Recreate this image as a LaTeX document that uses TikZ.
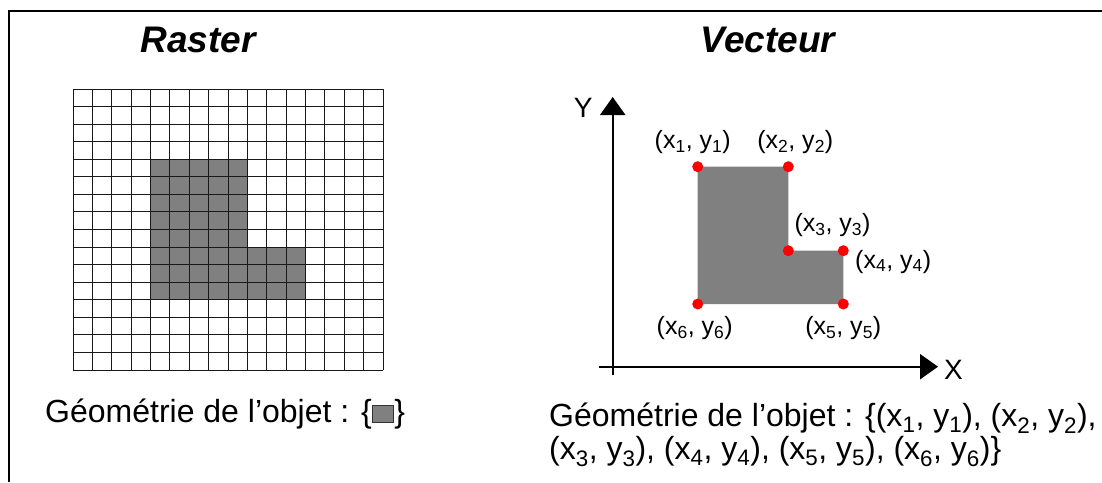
\documentclass[tikz,border=0pt]{standalone}
\usepackage{fontspec}
\setmainfont{Liberation Sans}
\usepackage{tikz}
\usetikzlibrary{arrows.meta,positioning}
\definecolor{cellgray}{HTML}{808080}
\definecolor{dotred}{HTML}{FF0000}
\newcommand{\vtx}[1]{(x\textsubscript{#1}, y\textsubscript{#1})}
\setlength{\fboxsep}{0pt}
\setlength{\fboxrule}{1.3pt}

\begin{document}
\begin{tikzpicture}[
  x=1pt,y=-1pt,
  headline/.style={font=\fontsize{37}{40}\selectfont\bfseries\itshape,anchor=base},
  captext/.style={font=\fontsize{32}{33}\selectfont,align=left,inner sep=0pt,anchor=base west},
  lbl/.style={font=\fontsize{25}{28}\selectfont,inner sep=0pt},
  axlbl/.style={font=\fontsize{28}{30}\selectfont,inner sep=0pt},
  vdot/.style={circle,fill=dotred,minimum size=11pt,inner sep=0pt},
  axisline/.style={-{Triangle[length=18pt,width=25pt]},line width=2.4pt},
  gridline/.style={draw=black!90,line width=1pt}
]
\useasboundingbox (0,0) rectangle (1102,482);
\fill[white] (0,0) rectangle (1102,482);
\draw[line width=2.6pt] (9,482) -- (9,11) -- (1102,11);

\node[headline] (rtitle) at (198,52) {Raster};
\node[headline] (vtitle) at (768,52) {Vecteur};

\begin{scope}[shift={(73,89)},x=19.375pt,y=-17.5625pt]
\fill[cellgray] (4,4) -- (9,4) -- (9,9) -- (12,9) -- (12,12) -- (4,12) -- cycle;
\foreach \i in {0,...,16} {
  \draw[gridline] (\i,0) -- (\i,16);
  \draw[gridline] (0,\i) -- (16,\i);
}
\end{scope}

\coordinate (ybot) at (612.7,375);
\coordinate (ytop) at (612.7,97);
\coordinate (xleft) at (599,366.7);
\coordinate (xright) at (938,366.7);
\draw[axisline] (ybot) -- (ytop);
\draw[axisline] (xleft) -- (xright);
\node[axlbl,left=20pt of ytop,yshift=-11pt] (ylbl) {Y};
\node[axlbl,right=6pt of xright,yshift=-3pt] (xlbl) {X};

\coordinate (p1) at (697.7,166.7);
\coordinate (p2) at (788.3,166.7);
\coordinate (p3) at (788.3,250.7);
\coordinate (p4) at (843.3,250.7);
\coordinate (p5) at (843.3,304);
\coordinate (p6) at (697.7,304);
\fill[cellgray] (p1) -- (p2) -- (p3) -- (p4) -- (p5) -- (p6) -- cycle;
\foreach \k in {1,...,6} \node[vdot] (d\k) at (p\k) {};

\node[lbl,above=7pt of d1,xshift=-5pt] (l1) {\vtx{1}};
\node[lbl,above=7pt of d2,xshift=7pt] (l2) {\vtx{2}};
\node[lbl,above right=10pt and 2pt of d3] (l3) {\vtx{3}};
\node[lbl,right=6pt of d4,yshift=-11pt] (l4) {\vtx{4}};
\node[lbl,below=6.5pt of d5] (l5) {\vtx{5}};
\node[lbl,below=6.5pt of d6,xshift=-3pt] (l6) {\vtx{6}};

\node[captext] (rcap) at (45,422) {Géométrie de l’objet : \{\fcolorbox{black!80}{cellgray}{\rule{0pt}{16pt}\rule{20pt}{0pt}}\}};
\node[captext] (vcap) at (549,459) {Géométrie de l’objet : \{\vtx{1}, \vtx{2},\\\vtx{3}, \vtx{4}, \vtx{5}, \vtx{6}\}};
\end{tikzpicture}
\end{document}
